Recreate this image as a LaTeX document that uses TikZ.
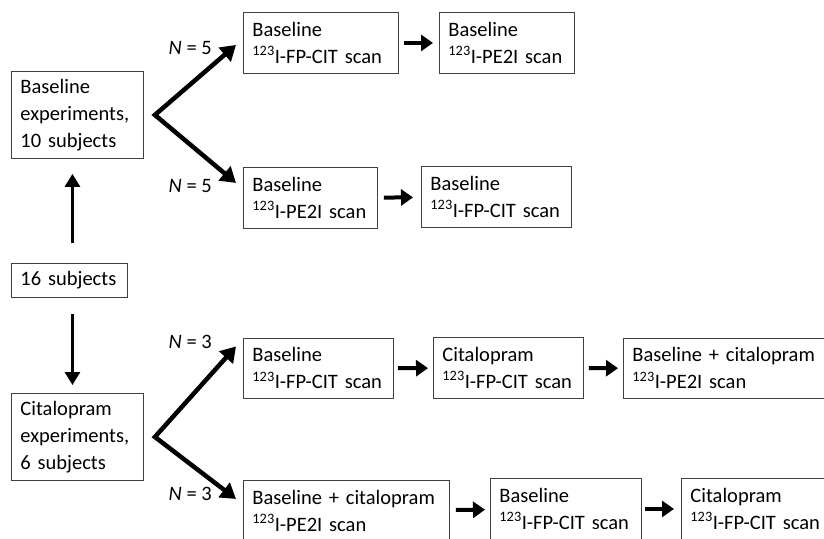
\documentclass[tikz,border=0pt]{standalone}
\usepackage{fontspec}
\setmainfont{Carlito}
\usetikzlibrary{arrows.meta,positioning,calc}
\tikzset{
  scanbox/.style={draw=black!75, line width=0.9pt, anchor=north west, align=left,
    inner xsep=9pt, inner ysep=2pt, minimum height=61pt,
    font=\fontsize{20.5pt}{27pt}\selectfont},
  nextarr/.style={-{Triangle[length=12pt,width=16pt]}, line width=4pt},
  splitarr/.style={{Triangle[length=15pt,width=18pt]}-{Triangle[length=15pt,width=18pt]},
    line width=4.5pt, line join=miter},
  flowarr/.style={-{Triangle[length=13pt,width=15pt]}, line width=3pt},
  nlabel/.style={anchor=east, inner sep=0pt, font=\fontsize{20.5pt}{27pt}\selectfont},
}
\newcommand{\iso}{\textsuperscript{123}}

\begin{document}
\begin{tikzpicture}[x=1pt, y=-1pt]
    \useasboundingbox (0,0) rectangle (824,538);
    \clip (0,0) rectangle (824,538);
    % subject groups
    \node[scanbox, text width=114pt, minimum height=87pt] (bexp) at (11,71)
      {Baseline\\experiments,\\10 subjects};
    \node[scanbox, text width=98pt, minimum height=34pt] (subj16) at (11,263)
      {16 subjects};
    \node[scanbox, text width=114pt, minimum height=87pt] (cexp) at (11,393)
      {Citalopram\\experiments,\\6 subjects};
    \draw[flowarr, shorten <=20pt, shorten >=15pt]
      ([xshift=3pt]subj16.north) -- ([xshift=3pt]subj16.north |- bexp.south);
    \draw[flowarr, shorten <=16pt, shorten >=8pt]
      ([xshift=3pt]subj16.south) -- ([xshift=3pt]subj16.south |- cexp.north);
    % baseline scans
    \node[scanbox, text width=137pt] (a1) at (243,12) {Baseline\\\iso I-FP-CIT scan};
    \node[scanbox, text width=117pt] (a2) at (439,12) {Baseline\\\iso I-PE2I scan};
    \node[scanbox, text width=116pt] (b1) at (243,167) {Baseline\\\iso I-PE2I scan};
    \node[scanbox, text width=132pt] (b2) at (421,166) {Baseline\\\iso I-FP-CIT scan};
    \draw[nextarr, shorten <=5pt, shorten >=6pt] (a1) -- (a2);
    \draw[nextarr, shorten <=6pt, shorten >=8pt] (b1) -- (b2);
    \coordinate (v1) at ([xshift=11pt]bexp.east);
    \draw[splitarr] ([xshift=-7pt,yshift=-2pt]a1.west) -- (v1) -- ([xshift=-7pt,yshift=15pt]b1.west);
    \node[nlabel] (n1) at (212,48) {\textit{N} = 5};
    \node[nlabel] (n2) at (212,186) {\textit{N} = 5};
    % citalopram scans
    \node[scanbox, text width=132pt, minimum height=60pt] (c1) at (243,338) {Baseline\\\iso I-FP-CIT scan};
    \node[scanbox, text width=132pt] (c2) at (433,337) {Citalopram\\\iso I-FP-CIT scan};
    \node[scanbox, text width=192pt, minimum height=60pt] (c3) at (623,338) {Baseline + citalopram\\\iso I-PE2I scan};
    \node[scanbox, text width=188pt] (d1) at (243,480) {Baseline + citalopram\\\iso I-PE2I scan};
    \node[scanbox, text width=133pt] (d2) at (490,478) {Baseline\\\iso I-FP-CIT scan};
    \node[scanbox, text width=134pt] (d3) at (681,478) {Citalopram\\\iso I-FP-CIT scan};
    \draw[nextarr, shorten <=4pt, shorten >=5pt] (c1) -- (c2);
    \draw[nextarr, shorten <=5pt, shorten >=5pt] (c2) -- (c3);
    \draw[nextarr, shorten <=6pt, shorten >=5pt] (d1) -- (d2);
    \draw[nextarr, shorten <=3pt, shorten >=7pt] (d2) -- (d3);
    \coordinate (v2) at ([xshift=11pt]cexp.east);
    \draw[splitarr] ([xshift=-7pt,yshift=22pt]c1.west) -- (v2) -- ([xshift=-7pt,yshift=12pt]d1.west);
    \node[nlabel] (n3) at (212,342) {\textit{N} = 3};
    \node[nlabel] (n4) at (212,494) {\textit{N} = 3};
\end{tikzpicture}
\end{document}
